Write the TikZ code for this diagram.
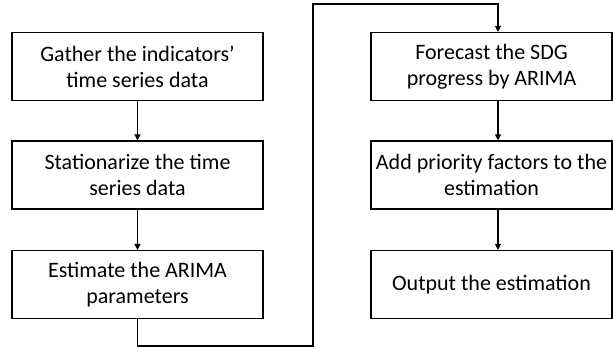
\documentclass[tikz,border=0pt]{standalone}
\usepackage{fontspec}
\setmainfont{Carlito}
\usetikzlibrary{arrows.meta}
\begin{document}
\begin{tikzpicture}[x=1pt,y=-1pt,
  stepbox/.style={draw=black, line width=1.1pt, minimum width=251pt, minimum height=68pt,
    align=center, font=\fontsize{22}{26}\selectfont, inner sep=0pt},
  flow/.style={draw=black, line width=1.1pt, -{Triangle[length=6pt,width=6pt]}}]
\useasboundingbox (0,0) rectangle (613,349);
% left column
\node[stepbox] (s1) at (137.5,66.5) {Gather the indicators'\\time series data};
\node[stepbox] (s2) at (137.5,175) {Stationarize the time\\series data};
\node[stepbox] (s3) at (137.5,284.5) {Estimate the ARIMA\\parameters};
% right column
\node[stepbox, minimum width=241pt] (s4) at (491.5,66.5) {Forecast the SDG\\progress by ARIMA};
\node[stepbox, minimum width=241pt] (s5) at (491.5,175) {Add priority factors to the\\estimation};
\node[stepbox, minimum width=241pt] (s6) at (491.5,284.5) {Output the estimation};
% connectors
\coordinate (b1) at (137.5,346);
\coordinate (b2) at (313,346);
\coordinate (b3) at (313,4);
\coordinate (b4) at (498,4);
\draw[flow] (s1) -- (s2);
\draw[flow] (s2) -- (s3);
\draw[flow] (s3.south) -- (b1) -- (b2) -- (b3) -- (b4) -- (s4.north -| b4);
\draw[flow] (s4.south -| b4) -- (s5.north -| b4);
\draw[flow] (s5.south -| b4) -- (s6.north -| b4);
\end{tikzpicture}
\end{document}
